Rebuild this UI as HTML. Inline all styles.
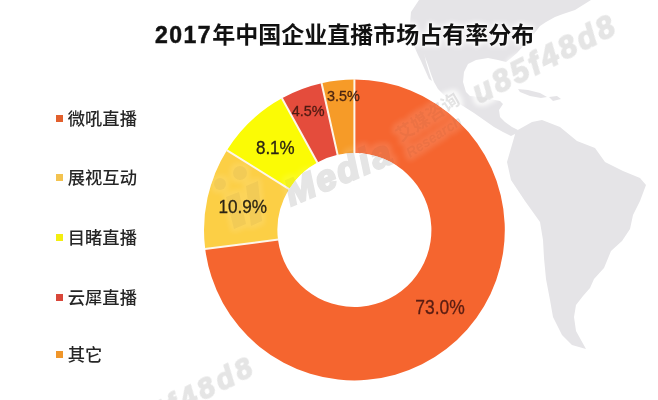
<!DOCTYPE html>
<html><head><meta charset="utf-8">
<style>
html,body{margin:0;padding:0;background:#fff;}
body{width:658px;height:400px;overflow:hidden;position:relative;}
#chart{position:absolute;left:0;top:0;}
.title{position:absolute;left:155px;top:20px;font-family:"Liberation Sans","Noto Sans CJK SC",sans-serif;font-weight:bold;font-size:23px;color:#111;white-space:nowrap;line-height:30px;text-shadow:0 0 3px #fff,0 0 3px #fff,0 0 6px #fff,0 0 6px #fff;}
.lg{position:absolute;left:55.5px;font-family:"Liberation Sans","Noto Sans CJK SC",sans-serif;font-size:17.3px;color:#262626;font-weight:500;white-space:nowrap;line-height:20px;}
.lg i{display:inline-block;width:7px;height:7px;margin-right:5.3px;vertical-align:middle;position:relative;top:-1.7px;}
</style></head>
<body>
<svg id="chart" width="658" height="400" viewBox="0 0 658 400">
  <filter id="soft" x="-5%" y="-5%" width="110%" height="110%"><feGaussianBlur stdDeviation="0.7"/></filter>
  <g fill="#e5e4e7" filter="url(#soft)">
    <!-- North America -->
    <path d="M419,0 L591,0 L583,5 L575,10 L563,14 L555,17 L546,22 L540,26 L533,35 L525,44 L517,53 L510,59 L506,62 L498,60 L488,58 L476,60 L468,64 L464,72 L463,82 L466,92 L470,96 L480,97 L490,99 L500,101 L503,104 L499,110 L500,117 L505,122 L512,127 L518,130 L517,133 L511,136 L503,132 L494,127 L484,120 L474,113 L463,106 L452,100 L444,95 L438,89 L434,82 L431,74 L428,65 L425,57 L424,53 L426,62 L429,72 L432,81 L429,79 L425,70 L421,61 L418,55 L414,46 L411,36 L410,24 L411,12 Z"/>
    <path d="M518,89 L528,90 L540,93 L547,97 L541,98 L530,96 L520,92 Z"/>
    <path d="M549,97 L557,96 L561,99 L553,101 Z"/>
    <!-- South America -->
    <path d="M516,131 L532,122 L542,120 L560,127 L577,141 L595,148 L605,162 L623,171 L640,178 L646,185 L640,201 L633,215 L630,229 L622,241 L611,251 L604,268 L594,279 L590,288 L583,296 L576,305 L574,317 L576,331 L586,349 L572,345 L562,335 L553,317 L550,300 L546,279 L544,258 L543,240 L540,222 L525,201 L511,180 L507,162 Z"/>
  </g>
  <g>
    <path fill="#f5652f" d="M354.40,79.60 A150.4,150.4 0 1 1 205.19,248.85 L278.01,239.65 A77,77 0 1 0 354.40,153.00 Z"/>
    <path fill="#fccf45" d="M205.19,248.85 A150.4,150.4 0 0 1 226.91,150.21 L289.13,189.15 A77,77 0 0 0 278.01,239.65 Z"/>
    <path fill="#fbfb05" d="M226.91,150.21 A150.4,150.4 0 0 1 281.94,98.20 L317.30,162.52 A77,77 0 0 0 289.13,189.15 Z"/>
    <path fill="#e44c3c" d="M281.94,98.20 A150.4,150.4 0 0 1 321.59,83.22 L337.60,154.85 A77,77 0 0 0 317.30,162.52 Z"/>
    <path fill="#f69b28" d="M321.59,83.22 A150.4,150.4 0 0 1 354.40,79.60 L354.40,153.00 A77,77 0 0 0 337.60,154.85 Z"/>
  </g>
  <path stroke="#fdf6ea" stroke-width="2" fill="none" d="M278.50,239.59 L204.89,248.89 M289.55,189.42 L226.65,150.05 M317.55,162.96 L281.80,97.94 M337.71,155.34 L321.53,82.93 M354.40,153.50 L354.40,79.30"/>
  <defs>
    <clipPath id="offring"><path clip-rule="evenodd" d="M0,0 H658 V400 H0 Z M354.4,79.6 A150.4,150.4 0 1 1 354.4,380.4 A150.4,150.4 0 1 1 354.4,79.6 Z M354.4,153 A77,77 0 1 1 354.4,307 A77,77 0 1 1 354.4,153 Z"/></clipPath>
    <g id="wm" font-family="Liberation Sans, sans-serif" font-weight="bold" font-style="italic">
    <circle cx="220" cy="184" r="6"/>
    <circle cx="240" cy="173" r="7"/>
    <path d="M226,197 L239,192 L246,224 L234,229 Z"/>
    <path d="M246,186 L258,181 L262,221 L251,226 Z"/>
    <text transform="translate(291,206) rotate(-23)" font-size="36" letter-spacing="2.5" stroke="#000" stroke-width="2.6">Media</text>
    <text transform="translate(401,142) rotate(-33)" font-size="18" font-style="normal" font-family="Liberation Sans, Noto Sans CJK SC, sans-serif">艾媒咨询</text>
    <text transform="translate(410,158) rotate(-33)" font-size="14">Research</text>
    <text transform="translate(479,104) rotate(-27)" font-size="31" letter-spacing="3" stroke="#000" stroke-width="1.6">u85f48d8</text>
    <text transform="translate(118,444) rotate(-27)" font-size="29" letter-spacing="4" stroke="#000" stroke-width="1.6">u85f48d8</text>
    </g>
  </defs>
  <filter id="glow" x="-20%" y="-20%" width="140%" height="140%">
    <feMorphology in="SourceAlpha" operator="dilate" radius="2.5" result="d"/>
    <feGaussianBlur in="d" stdDeviation="2.5" result="b"/>
    <feFlood flood-color="#fff"/>
    <feComposite in2="b" operator="in"/>
  </filter>
  <use href="#wm" fill="#000" filter="url(#glow)" opacity="0.8" clip-path="url(#offring)"/>
  <use href="#wm" fill="#000" filter="url(#glow)" opacity="0.12"/>
  <use href="#wm" fill="#000" opacity="0.04"/>
  <use href="#wm" fill="#000" opacity="0.065" clip-path="url(#offring)"/>
  <g font-family="Liberation Sans, sans-serif" fill="#2b2414" stroke="#2b2414" stroke-width="0.3" text-anchor="middle">
    <text fill="#5a1d12" stroke="#5a1d12" x="440" y="314" font-size="20" textLength="49.5" lengthAdjust="spacingAndGlyphs">73.0%</text>
    <text x="242.7" y="213.2" font-size="19" textLength="48.6" lengthAdjust="spacingAndGlyphs">10.9%</text>
    <text x="275.3" y="154.4" font-size="18" textLength="38.7" lengthAdjust="spacingAndGlyphs">8.1%</text>
    <text fill="#4e1a12" stroke="#4e1a12" x="308.1" y="116.2" font-size="14.6" textLength="32.8" lengthAdjust="spacingAndGlyphs">4.5%</text>
    <text fill="#4a2412" stroke="#4a2412" x="343.4" y="100.8" font-size="14.6" textLength="32.8" lengthAdjust="spacingAndGlyphs">3.5%</text>
  </g>
</svg>
<div class="title"><span style="letter-spacing:1.5px;-webkit-text-stroke:0.5px #111">2017</span>年中国企业直播市场占有率分布</div>
<div class="lg" style="top:109px"><i style="background:#e2602d"></i>微吼直播</div>
<div class="lg" style="top:168px"><i style="background:#f3c350"></i>展视互动</div>
<div class="lg" style="top:227.5px"><i style="background:#f3ee10"></i>目睹直播</div>
<div class="lg" style="top:287.5px"><i style="background:#d9473a"></i>云犀直播</div>
<div class="lg" style="top:345px"><i style="background:#f0962a"></i>其它</div>
</body></html>
